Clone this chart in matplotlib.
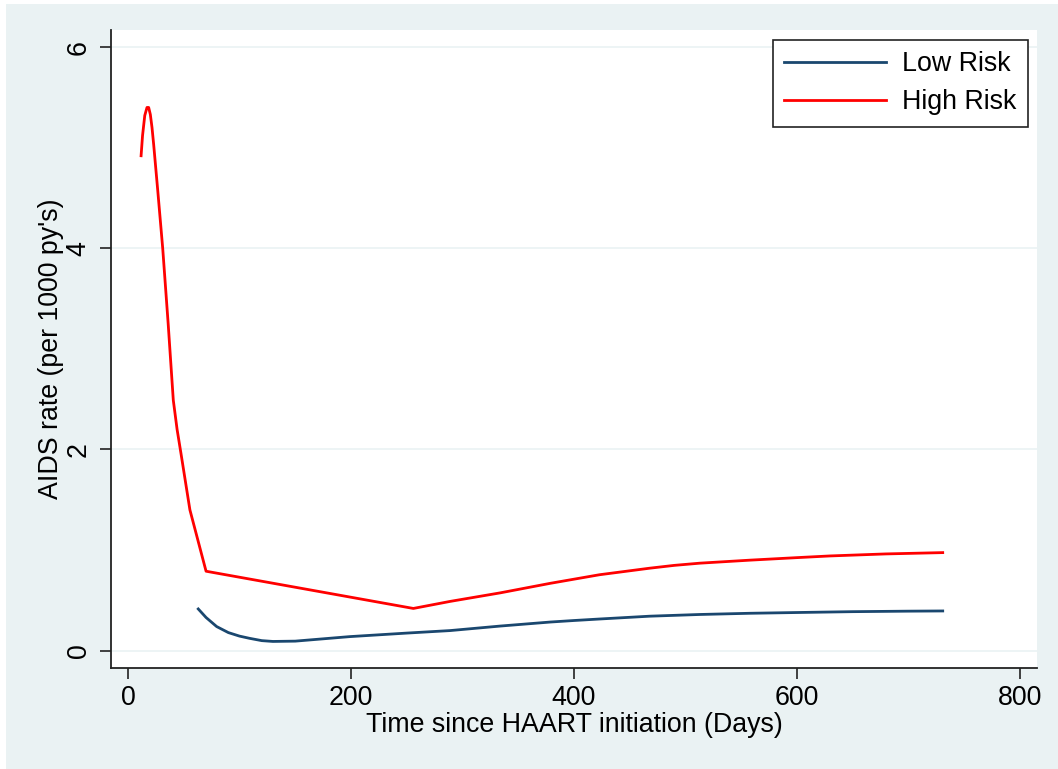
#! /usr/bin/env python3

#Recreate the AIDS rate by time since HAART initiation chart.

import numpy as np
import matplotlib
matplotlib.use('Agg')
import matplotlib.pyplot as plt
from matplotlib.patches import Rectangle

#Data.
lowDays = [63, 70, 79.5, 90, 100, 109, 120, 130, 150, 199, 250, 289, 334, 379,
           400, 423, 468, 513, 558, 603, 650, 700, 731]
lowRate = [0.415, 0.33, 0.24, 0.18, 0.145, 0.123, 0.10, 0.092, 0.095, 0.14, 0.175,
           0.20, 0.245, 0.285, 0.30, 0.315, 0.343, 0.36, 0.372, 0.38, 0.388, 0.393,
           0.395]

highDays = [11.7, 13, 15, 17, 18.5, 20, 21.5, 23, 26.6, 31.1, 36, 40.6, 44, 47.5,
            55.5, 70, 256, 289, 334, 379, 423, 468, 490, 513, 540, 558, 600, 630,
            680, 731]
highRate = [4.92, 5.12, 5.32, 5.40, 5.40, 5.33, 5.2, 5.03, 4.58, 4.0, 3.25, 2.49,
            2.2, 1.96, 1.40, 0.79, 0.42, 0.49, 0.575, 0.67, 0.755, 0.82, 0.848,
            0.87, 0.888, 0.90, 0.925, 0.942, 0.962, 0.975]

seriesNames = ['Low Risk', 'High Risk']
xTicks = [0, 200, 400, 600, 800]
yTicks = [0, 2, 4, 6]

def plotRates(outfile) :

  bgColor = '#EAF2F3'
  navy = '#1A476F'

  plt.rcParams['font.family'] = ['Liberation Sans', 'DejaVu Sans']
  plt.rcParams['font.size'] = 19.3

  fig = plt.figure(figsize = (10.58, 7.69), dpi = 100)
  fig.patch.set_facecolor('white')

  #Stata style graph region, leaving a thin white edge top and left.
  fig.patches.append(Rectangle((6/1058.0, -0.01), 1.0, 1.01 - 4/769.0,
                               transform = fig.transFigure, facecolor = bgColor,
                               edgecolor = 'none', zorder = -10))

  ax = fig.add_axes([111/1058.0, 1 - 668/769.0, 926/1058.0, 638/769.0])
  ax.set_facecolor('white')

  ax.plot(lowDays, lowRate, color = navy, lw = 2, label = seriesNames[0])
  ax.plot(highDays, highRate, color = 'red', lw = 2, label = seriesNames[1])

  ax.set_xlim(-15.3, 815.6)
  ax.set_ylim(-0.172, 6.17)

  ax.set_xticks(xTicks)
  ax.set_yticks(yTicks)
  ax.set_yticklabels([str(v) for v in yTicks], rotation = 90, va = 'center')

  #Horizontal gridlines only.
  ax.grid(axis = 'y', color = bgColor, lw = 1.2)
  ax.set_axisbelow(True)

  for side in ['top', 'right'] :
    ax.spines[side].set_visible(False)
  for side in ['left', 'bottom'] :
    ax.spines[side].set_color('#222222')
    ax.spines[side].set_linewidth(1.3)

  ax.tick_params(axis = 'both', direction = 'out', length = 8, width = 1.2,
                 color = '#222222')
  ax.tick_params(axis = 'x', pad = 4)
  ax.tick_params(axis = 'y', pad = 6)

  ax.set_xlabel('Time since HAART initiation (Days)', labelpad = 1)
  ax.set_ylabel("AIDS rate (per 1000 py's)", labelpad = 1)

  leg = ax.legend(loc = 'upper right', bbox_to_anchor = (1028/1058.0, 1 - 40/769.0),
                  bbox_transform = fig.transFigure, fancybox = False,
                  framealpha = 1, edgecolor = '#222222', handlelength = 3.8,
                  handletextpad = 0.6, labelspacing = 0.45, borderpad = 0.42,
                  borderaxespad = 0)
  leg.get_frame().set_linewidth(1.2)

  fig.savefig(outfile, dpi = 100, facecolor = fig.get_facecolor())
#End of the function plotRates.

def main() :
  plotRates('out.png')

if __name__ == '__main__':
  main()
